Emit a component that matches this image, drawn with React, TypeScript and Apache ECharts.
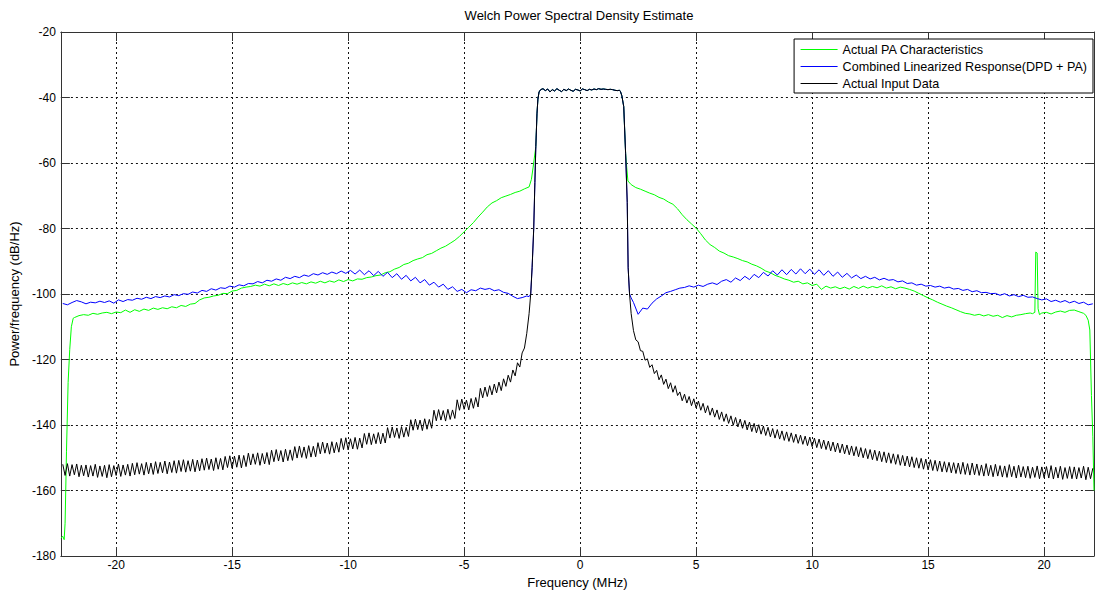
import React, { useEffect, useRef } from "react";
import * as echarts from "echarts";

// ---- axis ranges / labels ----
const X_MIN = -22.38;
const X_MAX = 22.15;
const Y_MIN = -180;
const Y_MAX = -20;
const Y_STEP = 20;
const TITLE = "Welch Power Spectral Density Estimate";
const X_NAME = "Frequency (MHz)";
const Y_NAME = "Power/frequency (dB/Hz)";
const NAMES = ["Actual PA Characteristics", "Combined Linearized Response(DPD + PA)", "Actual Input Data"];
const COLORS = ["#00ff00", "#0000ff", "#000000"];

// ---- Actual Input Data (black) ----
// left tail: starts at -22.3 MHz, 0.1 MHz bins
const blackLeftStart = -22.3;
const blackLeftStep = 0.1;
const blackLeftTail = [
  -152.0, -155.4, -151.8, -155.6, -152.1, -155.2, -151.9, -155.8, -152.3, -155.5,
  -152.2, -155.9, -152.4, -155.6, -152.0, -156.0, -152.5, -155.7, -152.3, -156.1,
  -152.1, -155.8, -152.4, -155.4, -151.9, -155.7, -152.2, -155.3, -152.0, -155.6,
  -151.7, -155.2, -151.5, -155.0, -151.8, -155.3, -151.4, -154.9, -151.6, -155.1,
  -151.2, -154.8, -151.4, -154.6, -151.0, -154.9, -151.3, -154.5, -150.9, -154.7,
  -150.8, -154.2, -150.6, -154.4, -150.9, -154.1, -150.5, -154.3, -150.7, -154.0,
  -150.3, -153.8, -150.1, -153.6, -150.4, -153.9, -150.0, -153.5, -150.2, -153.7,
  -149.6, -153.0, -149.4, -153.2, -149.5, -152.9, -149.2, -153.1, -149.3, -152.7,
  -148.6, -152.2, -148.8, -152.0, -148.5, -152.3, -148.7, -151.9, -148.4, -152.1,
  -147.7, -151.2, -147.5, -151.0, -147.8, -151.3, -147.4, -150.9, -147.6, -150.8,
  -146.6, -150.1, -146.4, -149.9, -146.7, -150.2, -146.3, -149.8, -146.5, -149.7,
  -145.4, -148.8, -145.2, -148.6, -145.5, -148.9, -145.1, -148.5, -145.3, -148.3,
  -144.1, -147.5, -143.9, -147.6, -144.2, -147.3, -143.8, -147.4, -144.0, -147.0,
  -142.6, -145.9, -142.4, -146.0, -142.7, -145.7, -142.3, -145.8, -142.5, -145.5,
  -140.8, -144.0, -140.6, -143.8, -140.9, -144.1, -140.5, -143.7, -140.7, -143.5,
  -138.4, -141.6, -138.2, -141.4, -138.5, -141.7, -138.1, -141.3, -138.3, -141.0,
  -135.5, -138.7, -135.3, -138.5, -135.6, -138.8, -135.2, -138.3, -135.4, -138.0,
  -132.3, -135.5, -132.1, -135.2, -132.4, -135.4, -131.9, -134.9, -131.6, -134.5,
  -128.8, -131.7, -128.4, -131.3, -128.0, -130.8, -127.5, -130.2, -126.9, -129.5,
  -125.9, -128.2, -124.8, -126.9, -123.2, -125.0, -121.0, -122.3, -118.0, -116.5,
  -112.0,
];
const blackLeftEdgeF = [-2.2, -2.13, -2.07, -2.0, -1.95, -1.91, -1.86, -1.82, -1.77, -1.7];
const blackLeftEdgeV = [-106, -100, -92, -80, -66, -55, -45, -40.5, -38.3, -37.6];
const blackTopStart = -1.6;
const blackTopStep = 0.1;
const blackTop = [
  -37.3, -37.9, -37.4, -38.3, -37.6, -38.0, -37.3, -37.8, -38.2, -37.5,
  -37.9, -37.4, -37.8, -38.1, -37.5, -37.7, -38.0, -37.4, -37.6, -37.9,
  -37.5, -37.7, -37.4, -37.6, -37.3, -37.5, -37.4, -37.5, -37.6, -37.5,
  -37.6, -37.8, -37.9,
];
const blackRightEdgeF = [1.7, 1.74, 1.8, 1.88, 1.96, 2.03, 2.07, 2.13, 2.2];
const blackRightEdgeV = [-37.8, -38.2, -39.5, -42.8, -57, -72, -92, -100, -106];
const blackRightStart = 2.3;
const blackRightStep = 0.1;
const blackRightTail = [
  -111.2, -114.0, -114.6, -117.3, -117.5, -120.2, -119.8, -122.4, -121.6, -124.3,
  -123.3, -126.2, -124.7, -127.6, -126.0, -128.9, -127.1, -130.0, -128.0, -131.0,
  -129.9, -132.6, -130.6, -133.3, -131.3, -134.1, -132.0, -134.8, -132.7, -135.5,
  -133.4, -136.3, -134.1, -137.0, -134.8, -137.6, -135.4, -138.3, -136.0, -138.9,
  -136.6, -139.5, -137.2, -140.1, -137.7, -140.6, -138.2, -141.0, -138.6, -141.5,
  -139.1, -142.0, -139.5, -142.4, -139.9, -142.8, -140.3, -143.2, -140.7, -143.6,
  -141.1, -144.0, -141.4, -144.3, -141.8, -144.7, -142.1, -145.0, -142.4, -145.3,
  -142.8, -145.6, -143.1, -145.9, -143.4, -146.3, -143.7, -146.6, -144.0, -146.9,
  -144.3, -147.2, -144.6, -147.5, -144.9, -147.9, -145.2, -148.2, -145.5, -148.5,
  -145.8, -148.8, -146.1, -149.1, -146.4, -149.4, -146.6, -149.7, -146.9, -150.0,
  -147.2, -150.3, -147.5, -150.6, -147.7, -150.9, -148.0, -151.2, -148.2, -151.5,
  -148.5, -151.7, -148.8, -152.0, -149.0, -152.3, -149.3, -152.5, -149.5, -152.8,
  -149.7, -153.0, -150.0, -153.2, -150.2, -153.5, -150.4, -153.7, -150.6, -153.9,
  -150.8, -154.1, -151.0, -154.3, -151.2, -154.4, -151.4, -154.6, -151.5, -154.8,
  -151.6, -155.0, -151.4, -155.1, -151.8, -155.3, -151.6, -155.2, -151.9, -155.4,
  -152.2, -155.6, -151.8, -155.5, -152.3, -155.8, -152.0, -155.6, -152.4, -155.9,
  -152.5, -156.0, -152.1, -155.8, -152.6, -156.2, -152.3, -155.9, -152.7, -156.1,
  -152.6, -156.3, -152.9, -156.0, -152.5, -156.4, -152.8, -156.1, -152.7, -156.2,
  -152.4, -156.5, -152.9, -156.2, -152.6, -156.6, -153.0, -156.3, -152.7, -156.4,
  -152.8, -156.5, -153.0, -156.2, -152.6, -156.7, -152.9, -156.4, -153.2,
];

// ---- Actual PA Characteristics (green) ----
const greenLeftEdgeF = [-22.38, -22.3, -22.24, -22.2, -22.14, -22.07, -22.0, -21.93, -21.85];
const greenLeftEdgeV = [-174.5, -174.0, -175.0, -170, -148, -127, -117, -110, -107.4];
const greenLeftStart = -21.8;
const greenLeftStep = 0.2;
const greenLeft = [
  -107.2, -106.6, -106.3, -106.5, -105.9, -106.2, -105.8, -105.6, -106.0, -105.5,
  -105.7, -104.9, -105.6, -104.8, -105.3, -104.6, -105.0, -104.3, -104.7, -104.2,
  -104.5, -103.9, -104.2, -103.5, -103.8, -103.1, -102.9, -101.8, -101.2, -101.0,
  -100.6, -100.4, -99.8, -99.9, -99.1, -98.9, -98.2, -97.9, -97.7, -97.3,
  -97.6, -97.0, -97.5, -96.9, -97.4, -96.8, -97.2, -96.6, -97.0, -96.5,
  -96.9, -96.3, -96.7, -96.1, -96.6, -96.0, -96.4, -95.7, -96.2, -95.6,
  -96.0, -95.4, -95.5, -95.0, -94.8, -94.4, -94.2, -93.5, -93.2, -92.4,
  -91.9, -91.0, -90.6, -89.8, -89.3, -88.9, -88.0, -87.6, -86.8, -86.0,
  -85.4, -84.5, -83.6, -82.4, -81.0, -79.6, -78.2, -76.5, -75.0, -73.4,
  -72.2, -71.5, -70.6, -70.1, -69.6, -69.0, -68.6, -67.9, -67.3,
];
const greenInnerLeftF = [-2.1, -2.03];
const greenInnerLeftV = [-65, -61.5];
const greenInnerRightF = [2.01, 2.06];
const greenInnerRightV = [-61.5, -65.5];
const greenRightStart = 2.2;
const greenRightStep = 0.2;
const greenRight = [
  -66.6, -67.5, -68.0, -68.6, -69.2, -69.7, -70.5, -71.0, -71.9, -72.6,
  -74.0, -75.8, -77.3, -78.6, -79.9, -81.6, -83.5, -84.9, -85.8, -86.9,
  -87.5, -88.3, -88.7, -89.2, -89.8, -90.2, -90.9, -91.4, -92.1, -93.0,
  -93.5, -94.3, -94.8, -95.4, -95.8, -96.4, -96.1, -96.9, -96.6, -97.4,
  -97.0, -98.6, -97.6, -98.2, -97.8, -98.4, -97.9, -98.5, -97.7, -98.3,
  -97.6, -98.2, -97.7, -98.1, -97.5, -98.2, -97.8, -98.4, -97.9, -98.2,
  -98.6, -99.1, -99.8, -100.5, -101.2, -101.8, -102.5, -103.1, -103.7, -104.2,
  -104.8, -105.4, -105.9, -106.1, -106.5, -106.2, -106.7, -106.3, -106.8, -106.5,
  -107.2, -106.6, -107.0, -106.5, -106.3, -106.0, -105.8,
];
const greenRightEdgeF = [
  19.5, 19.6, 19.64, 19.7, 19.74, 19.8, 19.9, 20.1, 20.3, 20.5, 20.7, 20.9,
  21.1, 21.3, 21.5, 21.7, 21.8, 21.9, 21.97, 22.04, 22.1, 22.15,
];
const greenRightEdgeV = [
  -106.0, -105.6, -87.2, -87.5, -104.5, -106.3, -105.8, -105.6, -106.1, -105.5, -105.2, -105.6,
  -105.0, -104.9, -105.4, -105.9, -106.5, -108, -111, -131, -143.6, -160,
];

// ---- Combined Linearized Response (blue) ----
const blueLeftStart = -22.3;
const blueLeftStep = 0.2;
const blueLeft = [
  -102.9, -103.3, -102.6, -102.0, -102.4, -103.0, -102.5, -102.7, -102.2, -102.6,
  -102.1, -102.8, -101.8, -102.3, -101.7, -101.9, -101.3, -101.6, -101.0, -101.4,
  -100.8, -101.1, -100.6, -100.9, -100.2, -100.5, -99.9, -100.1, -99.4, -99.7,
  -98.9, -99.2, -98.4, -98.8, -98.1, -98.3, -97.6, -97.9, -97.2, -97.5,
  -96.8, -96.9, -96.2, -96.6, -95.8, -96.1, -95.4, -95.8, -94.9, -95.3,
  -94.6, -95.0, -94.2, -94.6, -93.8, -94.2, -93.5, -94.0, -93.3, -93.8,
  -93.0, -93.7, -92.8, -93.9, -92.7, -94.1, -92.9, -94.4, -93.1, -94.6,
  -93.4, -95.0, -93.8, -95.5, -94.3, -96.0, -94.9, -96.6, -95.6, -97.3,
  -96.4, -97.9, -97.0, -98.6, -97.8, -99.2, -98.6, -99.6, -98.7, -99.0,
  -98.2, -98.6, -98.3, -99.0, -98.7, -99.5, -99.8, -100.7, -101.4, -101.1,
  -100.6,
];
const blueJoinLeftF = [-2.2];
const blueJoinLeftV = [-100.8];
const blueJoinRightF = [2.2];
const blueJoinRightV = [-101.2];
const blueRightStart = 2.3;
const blueRightStep = 0.2;
const blueRight = [
  -102.6, -106.2, -104.3, -104.6, -102.8, -101.5, -100.6, -99.6, -99.2, -98.7,
  -98.2, -98.0, -97.5, -97.9, -97.3, -97.7, -97.0, -96.6, -97.1, -96.1,
  -95.6, -96.4, -95.1, -95.9, -94.6, -95.6, -94.0, -95.0, -93.4, -94.5,
  -92.9, -94.2, -92.6, -94.1, -92.5, -93.9, -92.3, -93.8, -92.4, -94.0,
  -92.6, -94.3, -92.9, -94.6, -93.3, -94.9, -93.7, -95.1, -94.2, -95.3,
  -94.6, -95.4, -94.9, -95.7, -95.2, -95.8, -95.6, -96.3, -96.0, -96.8,
  -96.6, -97.3, -97.0, -97.6, -97.4, -97.9, -97.6, -98.2, -97.9, -98.5,
  -98.3, -98.9, -98.6, -99.3, -99.0, -99.6, -99.5, -99.9, -99.8, -100.4,
  -99.9, -100.6, -100.2, -100.8, -100.4, -101.0, -100.9, -101.4, -101.8, -101.5,
  -102.3, -101.9, -102.5, -102.0, -102.7, -102.2, -102.9, -102.5, -103.3, -103.0,
];

// ---- helpers to build [x, y] data from the arrays ----
const uniform = (start: number, step: number, vals: number[]) =>
  vals.map((v, i) => [Math.round((start + i * step) * 1000) / 1000, v]);
const pairs = (fs: number[], vs: number[]) => fs.map((f, i) => [f, vs[i]]);

const FONT = 'Arial, "Liberation Sans", sans-serif';

export default function App() {
  const ref = useRef<HTMLDivElement>(null);

  useEffect(() => {
    if (!ref.current) return;
    const chart = echarts.init(ref.current, undefined, { renderer: "svg" });

    const bLeftEdge = pairs(blackLeftEdgeF, blackLeftEdgeV);
    const bTop = uniform(blackTopStart, blackTopStep, blackTop);
    const bRightEdge = pairs(blackRightEdgeF, blackRightEdgeV);

    const blackData = [
      ...uniform(blackLeftStart, blackLeftStep, blackLeftTail),
      ...bLeftEdge,
      ...bTop,
      ...bRightEdge,
      ...uniform(blackRightStart, blackRightStep, blackRightTail),
    ];
    const greenData = [
      ...pairs(greenLeftEdgeF, greenLeftEdgeV),
      ...uniform(greenLeftStart, greenLeftStep, greenLeft),
      ...pairs(greenInnerLeftF, greenInnerLeftV),
      ...bLeftEdge.slice(5),
      ...bTop,
      ...bRightEdge.slice(0, 5),
      ...pairs(greenInnerRightF, greenInnerRightV),
      ...uniform(greenRightStart, greenRightStep, greenRight),
      ...pairs(greenRightEdgeF, greenRightEdgeV),
    ];
    const blueData = [
      ...uniform(blueLeftStart, blueLeftStep, blueLeft),
      ...pairs(blueJoinLeftF, blueJoinLeftV),
      ...bLeftEdge.slice(1),
      ...bTop,
      ...bRightEdge.slice(0, 8),
      ...pairs(blueJoinRightF, blueJoinRightV),
      ...uniform(blueRightStart, blueRightStep, blueRight),
    ];

    const gridLine = { show: true, lineStyle: { color: "#111", width: 1, type: [2, 3] as any } };
    const axisLine = { show: true, onZero: false, lineStyle: { color: "#333", width: 1 } };
    const tick = { show: true, inside: true, length: 9, lineStyle: { color: "#333" } };
    const xFmt = (v: number) => (Math.abs(v - Math.round(v / 5) * 5) < 1e-6 ? String(Math.round(v)) : "");

    const lineSeries = (name: string, data: number[][], color: string) => ({
      name,
      type: "line",
      data,
      symbol: "none",
      showSymbol: false,
      color,
      lineStyle: { color, width: 1 },
      itemStyle: { color },
      silent: true,
    });

    chart.setOption({
      animation: false,
      backgroundColor: "#fff",
      title: {
        text: TITLE,
        left: 574,
        top: 4,
        textAlign: "center",
        textStyle: { fontFamily: FONT, fontSize: 13, fontWeight: "normal", color: "#000" },
      },
      legend: {
        data: NAMES,
        orient: "vertical",
        right: 2,
        top: 39,
        backgroundColor: "#fff",
        borderColor: "#000",
        borderWidth: 1,
        borderRadius: 0,
        padding: [4, 6, 3, 6],
        itemWidth: 37,
        itemHeight: 15,
        itemGap: 4,
        itemStyle: { opacity: 0 },
        lineStyle: { width: 1 },
        textStyle: { fontFamily: FONT, fontSize: 12.6, color: "#000" },
        selectedMode: false,
      },
      grid: { left: 59, right: 1, top: 32, bottom: 40, containLabel: false },
      xAxis: [
        {
          type: "value",
          min: X_MIN,
          max: X_MAX,
          splitNumber: 9,
          position: "bottom",
          name: X_NAME,
          nameLocation: "middle",
          nameGap: 20,
          nameTextStyle: { fontFamily: FONT, fontSize: 13, color: "#000" },
          axisLine,
          axisTick: tick,
          splitLine: gridLine,
          axisLabel: {
            showMinLabel: false,
            showMaxLabel: false,
            margin: 3,
            formatter: xFmt,
            fontFamily: FONT,
            fontSize: 12,
            color: "#000",
          },
        },
        {
          type: "value",
          min: X_MIN,
          max: X_MAX,
          splitNumber: 9,
          position: "top",
          axisLine,
          axisTick: tick,
          splitLine: { show: false },
          axisLabel: { show: false },
        },
      ],
      yAxis: [
        {
          type: "value",
          min: Y_MIN,
          max: Y_MAX,
          interval: Y_STEP,
          position: "left",
          name: Y_NAME,
          nameLocation: "middle",
          nameGap: 36,
          nameTextStyle: { fontFamily: FONT, fontSize: 13, color: "#000" },
          axisLine,
          axisTick: tick,
          splitLine: gridLine,
          axisLabel: { margin: 5, fontFamily: FONT, fontSize: 12, color: "#000" },
        },
        {
          type: "value",
          min: Y_MIN,
          max: Y_MAX,
          interval: Y_STEP,
          position: "right",
          axisLine,
          axisTick: tick,
          splitLine: { show: false },
          axisLabel: { show: false },
        },
      ],
      series: [
        lineSeries(NAMES[0], greenData, COLORS[0]),
        lineSeries(NAMES[1], blueData, COLORS[1]),
        lineSeries(NAMES[2], blackData, COLORS[2]),
      ],
    });

    return () => chart.dispose();
  }, []);

  return (
    <div
      ref={ref}
      style={{ position: "fixed", left: 0, top: 0, width: 1095, height: 596, background: "#fff" }}
    />
  );
}
